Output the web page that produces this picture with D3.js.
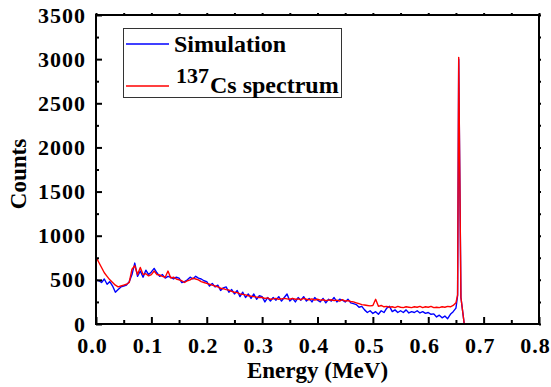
<!DOCTYPE html>
<html><head><meta charset="utf-8">
<script src="https://cdn.jsdelivr.net/npm/d3@7/dist/d3.min.js"></script>
<style>
body{margin:0;background:#fff;}
</style></head>
<body><svg id="c" width="551" height="387"></svg>
<script>
const energy = [0.000,0.005,0.010,0.015,0.020,0.025,0.030,0.035,0.040,0.045,0.050,0.055,0.060,0.065,0.070,0.075,0.080,0.085,0.090,0.095,
0.100,0.105,0.110,0.115,0.120,0.125,0.130,0.135,0.140,0.145,0.150,0.155,0.160,0.165,0.170,0.175,0.180,0.185,0.190,0.195,
0.200,0.205,0.210,0.215,0.220,0.225,0.230,0.235,0.240,0.245,0.250,0.255,0.260,0.265,0.270,0.275,0.280,0.285,0.290,0.295,
0.300,0.305,0.310,0.315,0.320,0.325,0.330,0.335,0.340,0.345,0.350,0.355,0.360,0.365,0.370,0.375,0.380,0.385,0.390,0.395,
0.400,0.405,0.410,0.415,0.420,0.425,0.430,0.435,0.440,0.445,0.450,0.455,0.460,0.465,0.470,0.475,0.480,0.485,0.490,0.495,
0.500,0.505,0.510,0.515,0.520,0.525,0.530,0.535,0.540,0.545,0.550,0.555,0.560,0.565,0.570,0.575,0.580,0.585,0.590,0.595,
0.600,0.605,0.610,0.615,0.620,0.625,0.630,0.635,0.640,0.645,0.650,0.653,0.655,0.659,0.665,0.670];
const simulation = [500,490,470,510,450,480,430,360,390,420,430,440,480,560,690,540,600,530,610,560,
590,630,580,540,560,520,540,530,510,530,520,470,480,500,530,510,540,520,510,490,
480,430,460,420,440,380,410,420,360,390,340,380,310,360,300,340,290,340,280,320,
310,250,300,260,300,270,310,260,300,340,260,290,250,300,270,310,260,290,250,300,
270,250,290,240,280,260,300,250,280,270,250,280,240,230,220,190,200,160,130,150,
120,140,110,150,130,180,200,140,160,130,150,130,160,125,140,130,150,125,140,120,
130,110,115,80,100,70,90,60,110,140,180,320,3000,300,0,0];
const cs137 = [760,700,640,580,540,500,470,440,420,430,440,450,470,620,660,560,640,560,570,545,
560,600,560,555,540,530,600,520,530,510,500,490,470,490,500,520,510,500,480,470,
460,450,440,430,420,405,400,390,385,370,360,355,340,335,330,320,315,310,305,300,
300,290,295,280,285,290,280,285,290,285,280,290,280,285,275,290,280,275,285,270,
280,270,275,265,270,275,265,270,260,275,260,265,255,250,240,230,220,215,210,205,
210,280,200,210,195,200,190,195,185,200,190,185,195,190,185,195,190,200,185,195,
190,200,185,190,185,195,190,200,195,210,240,330,3020,300,0,0];
const xMajor = [0,0.1,0.2,0.3,0.4,0.5,0.6,0.7,0.8];
const xMinor = [0.05,0.15,0.25,0.35,0.45,0.55,0.65,0.75];
const yMajor = [0,500,1000,1500,2000,2500,3000,3500];
const yMinor = [250,750,1250,1750,2250,2750,3250];
const seriesNames = ["Simulation","137","Cs spectrum"];

const FONT = "'Liberation Serif'";
const svg = d3.select("#c");
const L=96, R=539, T=15, B=324;
const x = d3.scaleLinear().domain([0,0.8]).range([L,R]);
const y = d3.scaleLinear().domain([0,3500]).range([B,T]);

svg.append("clipPath").attr("id","clip").append("rect").attr("x",L).attr("y",T).attr("width",R-L).attr("height",B-T);

const line = d3.line().x((d,i)=>x(energy[i])).y(d=>y(d));
const g = svg.append("g").attr("clip-path","url(#clip)");
g.append("path").datum(simulation).attr("d",line).attr("fill","none").attr("stroke","#0000ff").attr("stroke-width",1.4).attr("stroke-linejoin","round");
g.append("path").datum(cs137).attr("d",line).attr("fill","none").attr("stroke","#ff0000").attr("stroke-width",1.4).attr("stroke-linejoin","round");

function styleAxis(sel){ sel.attr("font-family",null).attr("font-size",null); sel.select(".domain").remove(); sel.selectAll("line").attr("stroke","#000").attr("stroke-width",2); }
function styleText(s, size){ s.style("font-family",FONT).style("font-weight","bold").style("font-size",size+"px").attr("fill","#000"); }
// bottom
svg.append("g").attr("transform",`translate(0,${B})`)
  .call(d3.axisBottom(x).tickValues(xMajor).tickSize(-7).tickPadding(13).tickFormat(d3.format(".1f")))
  .call(styleAxis)
  .call(s=>s.selectAll("text").call(styleText,22).attr("letter-spacing",1).attr("dx",-4));
svg.append("g").attr("transform",`translate(0,${B})`)
  .call(d3.axisBottom(x).tickValues(xMinor).tickSize(-4).tickFormat("")).call(styleAxis);
// left
svg.append("g").attr("transform",`translate(${L},0)`)
  .call(d3.axisLeft(y).tickValues(yMajor).tickSize(-6).tickPadding(10).tickFormat(d3.format("d")))
  .call(styleAxis)
  .call(s=>s.selectAll("text").call(styleText,22).attr("letter-spacing",1));
svg.append("g").attr("transform",`translate(${L},0)`)
  .call(d3.axisLeft(y).tickValues(yMinor).tickSize(-3).tickFormat("")).call(styleAxis);
// top and right small ticks
svg.append("g").attr("transform",`translate(0,${T})`)
  .call(d3.axisTop(x).tickValues(xMajor.concat(xMinor)).tickSize(2).tickFormat("")).call(styleAxis);
svg.append("g").attr("transform",`translate(${R},0)`)
  .call(d3.axisRight(y).tickValues(yMajor.concat(yMinor)).tickSize(2).tickFormat("")).call(styleAxis);

svg.append("rect").attr("x",L).attr("y",T).attr("width",R-L).attr("height",B-T)
  .attr("fill","none").attr("stroke","#000").attr("stroke-width",2);

// axis titles
svg.append("text").attr("x",(L+R)/2).attr("y",378).attr("text-anchor","middle").call(styleText,23).text("Energy (MeV)");
svg.append("text").attr("transform","translate(26,174) rotate(-90)").attr("text-anchor","middle").call(styleText,23).text("Counts");

// legend
const lg = svg.append("g");
lg.append("rect").attr("x",123.5).attr("y",28.5).attr("width",218).attr("height",69).attr("fill","#fff").attr("stroke","#333").attr("stroke-width",1);
lg.append("line").attr("x1",126).attr("x2",169).attr("y1",44).attr("y2",44).attr("stroke","#0000ff").attr("stroke-width",1.4);
lg.append("line").attr("x1",126).attr("x2",169).attr("y1",86).attr("y2",86).attr("stroke","#ff0000").attr("stroke-width",1.4);
lg.append("text").attr("x",174).attr("y",52).call(styleText,24).text(seriesNames[0]);
lg.append("text").attr("x",176).attr("y",83).call(styleText,22).text(seriesNames[1]);
lg.append("text").attr("x",210).attr("y",93).call(styleText,24).text(seriesNames[2]);
</script></body></html>
